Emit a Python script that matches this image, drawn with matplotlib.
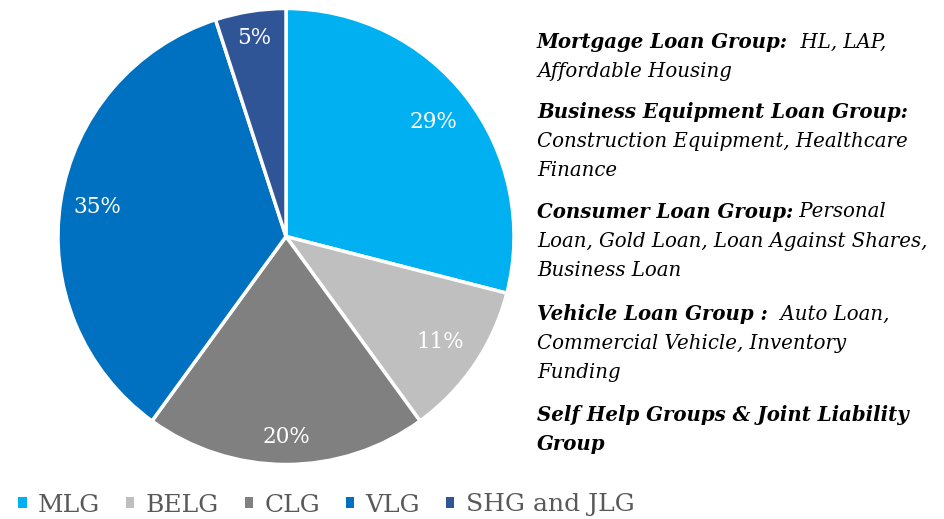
import matplotlib.pyplot as plt
from matplotlib.patches import Patch

# data
labels = ['MLG', 'BELG', 'CLG', 'VLG', 'SHG and JLG']
shares = [29, 11, 20, 35, 5]
colors = ['#00B0F0', '#BFBFBF', '#808080', '#0070C0', '#2F5597']

notes = [
	('Mortgage Loan Group:', '  HL, LAP,', ['Affordable Housing']),
	('Business Equipment Loan Group:', '', ['Construction Equipment, Healthcare', 'Finance']),
	('Consumer Loan Group:', ' Personal', ['Loan, Gold Loan, Loan Against Shares,', 'Business Loan']),
	('Vehicle Loan Group :', '  Auto Loan,', ['Commercial Vehicle, Inventory', 'Funding']),
	('Self Help Groups & Joint Liability', '', ['Group']),
]
note_y = [42, 112, 212, 314, 415]
# where each % label sits, as fraction of the radius (Excel "best fit")
pct_dist = [0.82, 0.82, 0.88, 0.84, 0.88]

FONT = 'DejaVu Serif'
W, H = 944, 519

fig = plt.figure(figsize=(W/100, H/100), dpi=100)

# pie, centre (286,236.5) radius 228 px
cx, cy, r = 286, 236.5, 228
ax = fig.add_axes([(cx-r)/W, (H-cy-r)/H, 2*r/W, 2*r/H])
wedges, _, pcts = ax.pie(shares, colors=colors, startangle=90, counterclock=False, radius=1,
	autopct='%d%%', pctdistance=1.0,
	wedgeprops=dict(edgecolor='white', linewidth=2.5),
	textprops=dict(color='white', fontsize=15.5, family=FONT))
for t, d in zip(pcts, pct_dist):
	x, y = t.get_position()
	t.set_position((x*d, y*d))
ax.set_xlim(-1, 1)
ax.set_ylim(-1, 1)
ax.axis('off')

# side notes
fig.canvas.draw()
rend = fig.canvas.get_renderer()
lh = 29.5
fs = 14.2
for (head, tail, rest), y0 in zip(notes, note_y):
	t = fig.text(537/W, 1-y0/H, head, fontsize=fs, style='italic', weight='bold',
		family=FONT, va='center', ha='left', color='black')
	if tail:
		bb = t.get_window_extent(renderer=rend)
		fig.text(bb.x1/W, 1-y0/H, tail, fontsize=fs, style='italic',
			family=FONT, va='center', ha='left', color='black')
	bold = head.startswith('Self')
	for i, line in enumerate(rest):
		fig.text(537/W, 1-(y0+lh*(i+1))/H, line, fontsize=fs, style='italic',
			weight='bold' if bold else 'normal',
			family=FONT, va='center', ha='left', color='black')

handles = [Patch(facecolor=c, edgecolor='none') for c in colors]
leg = fig.legend(handles, labels, loc='center left', bbox_to_anchor=(18/W, 1-505/H),
	ncol=5, frameon=False, handlelength=0.34, handleheight=0.34, handletextpad=0.45,
	columnspacing=1.03, borderpad=0, borderaxespad=0, prop=dict(family=FONT, size=18))
for txt in leg.get_texts():
	txt.set_color('#595959')

fig.savefig('out.png', dpi=100)
